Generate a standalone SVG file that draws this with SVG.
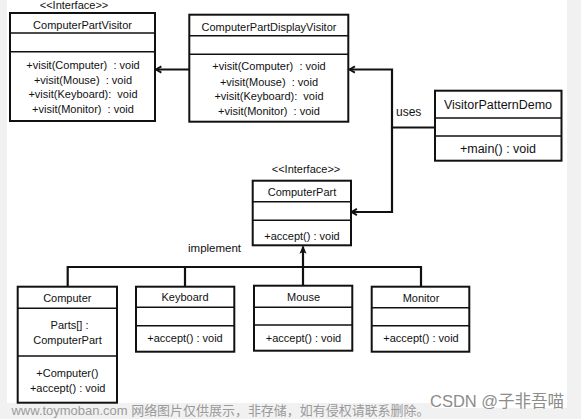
<svg xmlns="http://www.w3.org/2000/svg" width="581" height="419" viewBox="0 0 581 419">
<defs>
<style>
.box{fill:#fff;stroke:#111;stroke-width:2}
.div{stroke:#111;stroke-width:1.6;fill:none}
.t{font-family:"Liberation Sans",Arial,sans-serif;font-size:11px;fill:#111;text-anchor:middle;white-space:pre}
.big{font-size:12.5px}
.lbl{font-family:"Liberation Sans",Arial,sans-serif;font-size:11.5px;fill:#111}
.con{fill:none;stroke:#111;stroke-width:2.2}
.wm{font-family:"Liberation Sans","Noto Sans CJK SC",sans-serif;fill:#9a9a9a}
</style>
<marker id="open" viewBox="0 0 10 10" refX="9" refY="5" markerWidth="9" markerHeight="9" markerUnits="userSpaceOnUse" orient="auto">
<path d="M3,1.5 L9,5 L3,8.5" fill="none" stroke="#111" stroke-width="2"/>
</marker>
<marker id="solid" viewBox="0 0 10 10" refX="9" refY="5" markerWidth="9" markerHeight="9" markerUnits="userSpaceOnUse" orient="auto">
<path d="M1,1 L10,5 L1,9 L3,5 Z" fill="#111"/>
</marker>
</defs>
<rect x="0" y="0" width="581" height="419" fill="#f1f1f1"/>
<rect x="7" y="0" width="560" height="408" fill="#fff"/>
<rect x="0" y="403" width="432" height="16" fill="#f1f1f1"/>

<g id="connectors">
<path class="con" d="M189,69.5 H156" marker-end="url(#open)"/>
<path class="con" d="M435,127.5 H392 V69.5 H349.5" marker-end="url(#open)"/>
<path class="con" d="M392,127.5 V212 H351.5" marker-end="url(#open)"/>
<path class="con" d="M67.7,287 V267 H421 V287"/>
<path class="con" d="M185,267 V287"/>
<path class="con" d="M303,286 V246.5" marker-end="url(#solid)"/>
<text class="lbl" x="396" y="115.5" style="font-size:12px">uses</text>
<text class="lbl" x="188" y="252">implement</text>
</g>

<g id="ComputerPartVisitor">
<text class="t" x="74" y="9">&lt;&lt;Interface&gt;&gt;</text>
<rect class="box" x="10" y="13" width="145" height="108"/>
<path class="div" d="M10,33 H155 M10,51.7 H155"/>
<text class="t" x="82.5" y="29">ComputerPartVisitor</text>
<text class="t" x="83" y="68.5">+visit(Computer)  : void</text>
<text class="t" x="83" y="83.5">+visit(Mouse)  : void</text>
<text class="t" x="83" y="98">+visit(Keyboard):  void</text>
<text class="t" x="83" y="112.5">+visit(Monitor)  : void</text>
</g>

<g id="ComputerPartDisplayVisitor">
<rect class="box" x="189.3" y="14.7" width="159" height="107"/>
<path class="div" d="M189.3,35.7 H348.3 M189.3,54.3 H348.3"/>
<text class="t" x="269" y="30.5">ComputerPartDisplayVisitor</text>
<text class="t" x="269" y="70">+visit(Computer)  : void</text>
<text class="t" x="269" y="85.5">+visit(Mouse)  : void</text>
<text class="t" x="269" y="100">+visit(Keyboard):  void</text>
<text class="t" x="269" y="115">+visit(Monitor)  : void</text>
</g>

<g id="VisitorPatternDemo">
<rect class="box" x="435" y="90.7" width="126.5" height="70"/>
<path class="div" d="M435,118 H561.5 M435,136 H561.5"/>
<text class="t big" x="498" y="108.5">VisitorPatternDemo</text>
<text class="t big" x="498" y="152.5">+main() : void</text>
</g>

<g id="ComputerPart">
<text class="t" x="306" y="172.5">&lt;&lt;Interface&gt;&gt;</text>
<rect class="box" x="252.7" y="180.7" width="98.3" height="64.6"/>
<path class="div" d="M252.7,201.7 H351 M252.7,220.3 H351"/>
<text class="t" x="302" y="195.5">ComputerPart</text>
<text class="t" x="302" y="240">+accept() : void</text>
</g>

<g id="Computer">
<rect class="box" x="17.7" y="286.7" width="99.3" height="116"/>
<path class="div" d="M17.7,308.3 H117 M17.7,356 H117"/>
<text class="t" x="67.3" y="301.5">Computer</text>
<text class="t" x="69.5" y="329">Parts[] :</text>
<text class="t" x="67.5" y="344">ComputerPart</text>
<text class="t" x="67.3" y="377">+Computer()</text>
<text class="t" x="67.7" y="391.5">+accept() : void</text>
</g>

<g id="Keyboard">
<rect class="box" x="136" y="286.7" width="98.3" height="65"/>
<path class="div" d="M136,307.3 H234.3 M136,325.7 H234.3"/>
<text class="t" x="185" y="301">Keyboard</text>
<text class="t" x="185" y="342">+accept() : void</text>
</g>

<g id="Mouse">
<rect class="box" x="254" y="285.7" width="98.3" height="65"/>
<path class="div" d="M254,307.3 H352.3 M254,325 H352.3"/>
<text class="t" x="303.5" y="300.5">Mouse</text>
<text class="t" x="303.5" y="341.5">+accept() : void</text>
</g>

<g id="Monitor">
<rect class="box" x="371.7" y="286.7" width="97.6" height="65"/>
<path class="div" d="M371.7,307.7 H469.3 M371.7,325.7 H469.3"/>
<text class="t" x="421" y="301.5">Monitor</text>
<text class="t" x="421" y="342">+accept() : void</text>
</g>

<text class="wm" x="11.5" y="414.5" style="font-size:13px" textLength="418" lengthAdjust="spacingAndGlyphs">www.toymoban.com 网络图片仅供展示，非存储，如有侵权请联系删除。</text>
<text class="wm" x="430" y="407" style="font-size:16.5px;fill:#8c8c8c">CSDN @子非吾喵</text>
</svg>
